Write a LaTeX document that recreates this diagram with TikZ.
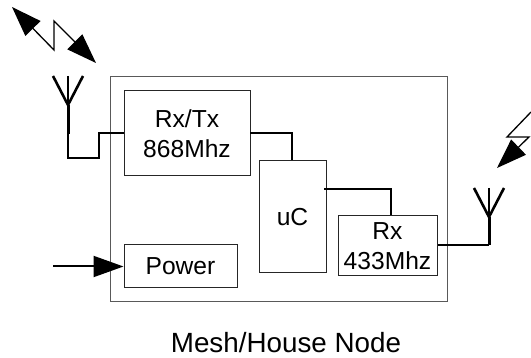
\documentclass[tikz,border=0pt]{standalone}
\usepackage{fontspec}
\setmainfont{Liberation Sans}
\usetikzlibrary{arrows.meta}
\begin{document}
\begin{tikzpicture}[x=1pt,y=-1pt,
  blockbox/.style={draw=black!85,line width=1pt,inner sep=0pt,align=center,font=\fontsize{24.6}{29.5}\selectfont},
  wire/.style={draw=black,line width=1.3pt},
  thickwire/.style={draw=black,line width=2pt},
  powerwire/.style={draw=black,line width=2pt},
  stem/.style={draw=black,line width=3pt},
  arm/.style={draw=black,line width=2.6pt},
  bigtip/.style={-{Triangle[length=30pt,width=21pt]}},
  label/.style={inner sep=0pt,font=\fontsize{27.8}{32}\selectfont}]
\useasboundingbox (0,0) rectangle (531,358);
\node[blockbox,draw=black!65,minimum width=337pt,minimum height=225pt] (house) at (278.5,189.5) {};
\node[blockbox,minimum width=126pt,minimum height=85pt] (rxtx) at (187,133.5) {Rx/Tx\\868Mhz};
\node[blockbox,minimum width=67pt,minimum height=112pt] (uc) at (292.5,217) {uC};
\node[blockbox,minimum width=99pt,minimum height=60pt] (rx) at (387.5,246) {Rx\\433Mhz};
\node[blockbox,minimum width=113pt,minimum height=43pt] (power) at (180.5,266.5) {Power};
\node[label] (title) at (286,343) {Mesh/House Node};
% left antenna
\coordinate (la) at (68,105);
\coordinate (lb) at (68,134);
\coordinate (lc) at (68,158);
\coordinate (ld) at (99,158);
\coordinate (le) at (99,133);
\coordinate (l1) at (53,76);
\coordinate (l2) at (68,76);
\coordinate (l3) at (83,76);
\draw[arm] (l1) -- (la) -- (l3);
\draw[arm] (l2) -- (la);
\draw[stem] (la) -- (lb);
\draw[wire] (lb) -- (lc) -- (ld) -- (le) -- (rxtx.west |- le);
% right antenna
\coordinate (ra) at (489,217);
\coordinate (rb) at (489,245);
\coordinate (r1) at (474,188);
\coordinate (r2) at (489,188);
\coordinate (r3) at (504,188);
\draw[arm] (r1) -- (ra) -- (r3);
\draw[arm] (r2) -- (ra);
\draw[stem] (ra) -- (rb);
\draw[wire] (rb) -- (rx.east |- rb);
% internal wires
\coordinate (wa) at (250,133);
\coordinate (wb) at (292,133);
\draw[thickwire] (wa) -- (wb) -- (wb |- uc.north);
\coordinate (wc) at (324,189);
\coordinate (wd) at (391,189);
\draw[thickwire] (wc) -- (wd) -- (wd |- rx.north);
% power arrow
\coordinate (pw) at (53,266.5);
\draw[powerwire,bigtip] (pw) -- (power.west);
% zigzag arrow top left
\coordinate (z1) at (12,7);
\coordinate (z2) at (54,50);
\coordinate (z3) at (54,21);
\coordinate (z4) at (96,63);
\draw[wire,{Triangle[length=30pt,width=21pt]}-{Triangle[length=30pt,width=21pt]}] (z1) -- (z2) -- (z3) -- (z4);
% lightning right
\coordinate (b1) at (531,112);
\coordinate (b2) at (507,137);
\coordinate (b3) at (529,137);
\coordinate (b4) at (497,168);
\draw[wire,bigtip] (b1) -- (b2) -- (b3) -- (b4);
\end{tikzpicture}
\end{document}
